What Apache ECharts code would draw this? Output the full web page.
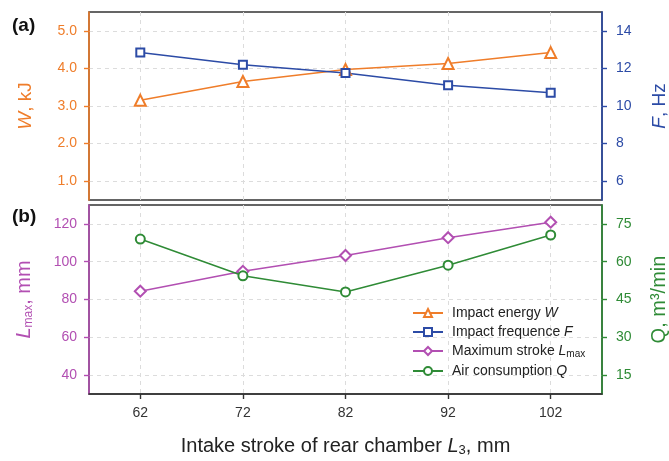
<!DOCTYPE html>
<html><head><meta charset="utf-8">
<script src="https://cdn.jsdelivr.net/npm/echarts@6/dist/echarts.min.js"></script>
<style>html,body{margin:0;padding:0;background:#fff}#c{width:669px;height:461px}</style>
</head><body><div id="c"></div>
<script>
const categories = ['62', '72', '82', '92', '102'];
const impactEnergyW = [3.15, 3.65, 3.97, 4.13, 4.42];
const impactFrequenceF = [12.85, 12.2, 11.75, 11.1, 10.7];
const maxStrokeLmax = [84.4, 94.9, 103.3, 112.7, 120.9];
const airConsumptionQ = [69, 54.4, 48, 58.6, 70.6];
const wTicks = [1, 2, 3, 4, 5];
const fTicks = [6, 8, 10, 12, 14];
const lTicks = [40, 60, 80, 100, 120];
const qTicks = [15, 30, 45, 60, 75];
const seriesNames = ['Impact energy W', 'Impact frequence F', 'Maximum stroke Lmax', 'Air consumption Q'];

const ORANGE = '#EF7D2A', BLUE = '#2C4BA6', MAGENTA = '#B24FB2', GREEN = '#2F8B36';
const FONT = '"Liberation Sans", Arial, sans-serif';
const gridLine = {show: true, lineStyle: {color: '#dcdcdc', type: [4, 4], width: 1}};

function yAxis(grid, pos, min, max, ticks, color, name, fmt, nameGap, fs, rich, split) {
  return {
    type: 'value', gridIndex: grid, position: pos, min: min, max: max,
    axisLine: {show: true, lineStyle: {color: color, width: 1.6}},
    axisTick: {show: true, inside: false, length: 5, customValues: ticks, lineStyle: {color: color, width: 1.4}},
    axisLabel: {customValues: ticks, color: color, fontSize: 14, fontFamily: FONT, margin: pos === 'left' ? 12 : 14, formatter: fmt},
    splitLine: split ? gridLine : {show: false},
    name: name, nameLocation: 'middle', nameGap: nameGap,
    nameTextStyle: {color: color, fontSize: fs, fontFamily: FONT, rich: rich}
  };
}

const chart = echarts.init(document.getElementById('c'));
chart.setOption({
  backgroundColor: '#fff',
  animation: false,
  textStyle: {fontFamily: FONT},
  grid: [
    {left: 89, right: 67, top: 12, height: 188, show: true, borderColor: '#333', borderWidth: 1.5, backgroundColor: 'transparent', outerBoundsMode: 'none', containLabel: false},
    {left: 89, right: 67, top: 205, height: 189, show: true, borderColor: '#333', borderWidth: 1.5, backgroundColor: 'transparent', outerBoundsMode: 'none', containLabel: false}
  ],
  xAxis: [
    {type: 'category', gridIndex: 0, data: categories, boundaryGap: true,
     axisLine: {show: false}, axisTick: {show: false}, axisLabel: {show: false},
     splitLine: Object.assign({alignWithLabel: true}, gridLine)},
    {type: 'category', gridIndex: 1, data: categories, boundaryGap: true,
     axisLine: {show: true, lineStyle: {color: '#333', width: 1.5}},
     axisTick: {show: true, alignWithLabel: true, inside: false, length: 5, lineStyle: {color: '#333', width: 1.4}},
     axisLabel: {color: '#333', fontSize: 14, fontFamily: FONT, margin: 12},
     splitLine: Object.assign({alignWithLabel: true}, gridLine),
     name: '{n|Intake stroke of rear chamber }{i|L}{s|3}{n|, mm}', nameLocation: 'middle', nameGap: 41,
     nameTextStyle: {color: '#222', fontSize: 20, fontFamily: FONT,
       rich: {n: {fontSize: 20, color: '#222'}, i: {fontSize: 20, fontStyle: 'italic', color: '#222'}, s: {fontSize: 13, color: '#222', padding: [9, 0, 0, 0]}}}}
  ],
  yAxis: [
    yAxis(0, 'left', 0.5, 5.5, wTicks, ORANGE, '{i|W}{n|, kJ}', v => v.toFixed(1), 54, 19,
      {i: {fontStyle: 'italic', fontSize: 19, color: ORANGE}, n: {fontSize: 19, color: ORANGE}}, true),
    yAxis(0, 'right', 5, 15, fTicks, BLUE, '{i|F}{n|, Hz}', v => String(v), 48, 19,
      {i: {fontStyle: 'italic', fontSize: 19, color: BLUE}, n: {fontSize: 19, color: BLUE}}, false),
    yAxis(1, 'left', 30, 130, lTicks, MAGENTA, '{i|L}{s|max}{n|, mm}', v => String(v), 54, 20,
      {i: {fontStyle: 'italic', fontSize: 20, color: MAGENTA}, s: {fontSize: 12, color: MAGENTA, padding: [9, 0, 0, 0]}, n: {fontSize: 20, color: MAGENTA}}, true),
    yAxis(1, 'right', 7.5, 82.5, qTicks, GREEN, '{n|Q, m³/min}', v => String(v), 47, 20,
      {n: {fontSize: 20, color: GREEN}}, false)
  ],
  legend: {
    orient: 'vertical', left: 407, top: 301, itemWidth: 30, itemHeight: 10, itemGap: 5,
    data: seriesNames,
    formatter: function (name) {
      if (name === seriesNames[0]) return '{n|Impact energy }{i|W}';
      if (name === seriesNames[1]) return '{n|Impact frequence }{i|F}';
      if (name === seriesNames[2]) return '{n|Maximum stroke }{i|L}{s|max}';
      return '{n|Air consumption }{i|Q}';
    },
    textStyle: {color: '#222', fontSize: 14, fontFamily: FONT, padding: [0, 0, 0, 4],
      rich: {n: {fontSize: 14, color: '#222'}, i: {fontSize: 14, fontStyle: 'italic', color: '#222'}, s: {fontSize: 10, color: '#222', padding: [6, 0, 0, 0]}}}
  },
  graphic: [
    {type: 'text', left: 12, top: 16, style: {text: '(a)', font: 'bold 19px ' + FONT, fill: '#111'}},
    {type: 'text', left: 12, top: 207, style: {text: '(b)', font: 'bold 19px ' + FONT, fill: '#111'}}
  ],
  series: [
    {name: seriesNames[0], type: 'line', xAxisIndex: 0, yAxisIndex: 0, data: impactEnergyW,
     symbol: 'emptyTriangle', symbolSize: 11, color: ORANGE, lineStyle: {width: 1.5, color: ORANGE}, itemStyle: {borderWidth: 1.5}},
    {name: seriesNames[1], type: 'line', xAxisIndex: 0, yAxisIndex: 1, data: impactFrequenceF,
     symbol: 'emptyRect', symbolSize: 8, color: BLUE, lineStyle: {width: 1.5, color: BLUE}, itemStyle: {borderWidth: 1.5}},
    {name: seriesNames[2], type: 'line', xAxisIndex: 1, yAxisIndex: 2, data: maxStrokeLmax,
     symbol: 'emptyDiamond', symbolSize: 11, color: MAGENTA, lineStyle: {width: 1.5, color: MAGENTA}, itemStyle: {borderWidth: 1.5}},
    {name: seriesNames[3], type: 'line', xAxisIndex: 1, yAxisIndex: 3, data: airConsumptionQ,
     symbol: 'emptyCircle', symbolSize: 9, color: GREEN, lineStyle: {width: 1.5, color: GREEN}, itemStyle: {borderWidth: 1.5}}
  ]
});
</script></body></html>
